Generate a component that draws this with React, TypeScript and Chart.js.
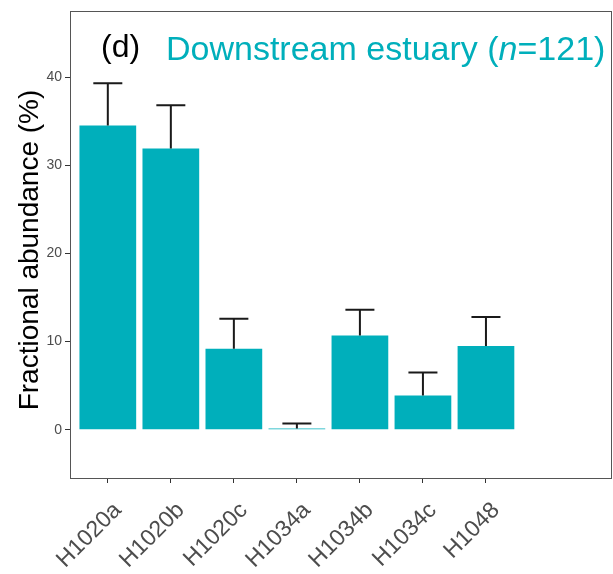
import React, { useEffect, useRef } from "react";
import { Chart, registerables } from "chart.js";

Chart.register(...registerables);

const categories = ["H1020a", "H1020b", "H1020c", "H1034a", "H1034b", "H1034c", "H1048"];
const values = [34.5, 31.9, 9.2, 0.15, 10.7, 3.9, 9.5];
const errors = [4.8, 4.9, 3.4, 0.55, 2.9, 2.6, 3.3];
const yTicks = [0, 10, 20, 30, 40];
const panelLabel = "(d)";
const titleParts = [
  { text: "Downstream estuary (", italic: false },
  { text: "n", italic: true },
  { text: "=121)", italic: false },
];
const yTitle = "Fractional abundance (%)";

const TEAL = "#00AFBB";
const FONT = "'Liberation Sans', Arial, Helvetica, sans-serif";

const decorPlugin = {
  id: "decor",
  afterDatasetsDraw(chart: any) {
    const { ctx, chartArea, scales } = chart;
    const xs = scales.x;
    const ys = scales.y;
    ctx.save();
    // error bars
    ctx.strokeStyle = "#1a1a1a";
    ctx.lineWidth = 2;
    values.forEach((v, i) => {
      const x = xs.getPixelForValue(i + 1);
      const y0 = ys.getPixelForValue(v);
      const y1 = ys.getPixelForValue(v + errors[i]);
      ctx.beginPath();
      ctx.moveTo(x, y0);
      ctx.lineTo(x, y1);
      ctx.moveTo(x - 14.5, y1);
      ctx.lineTo(x + 14.5, y1);
      ctx.stroke();
    });
    // panel border
    ctx.strokeStyle = "#555555";
    ctx.lineWidth = 1;
    ctx.strokeRect(
      Math.round(chartArea.left) + 0.5,
      Math.round(chartArea.top) + 0.5,
      Math.round(chartArea.right - chartArea.left) - 1,
      Math.round(chartArea.bottom - chartArea.top)
    );
    // panel label + title
    ctx.textBaseline = "alphabetic";
    ctx.textAlign = "left";
    ctx.fillStyle = "#000000";
    ctx.font = `32px ${FONT}`;
    ctx.fillText(panelLabel, 101, 57);
    let tx = 166;
    ctx.fillStyle = TEAL;
    titleParts.forEach((p) => {
      ctx.font = `${p.italic ? "italic " : ""}34px ${FONT}`;
      ctx.fillText(p.text, tx, 60);
      tx += ctx.measureText(p.text).width;
    });
    // y axis title
    ctx.save();
    ctx.translate(38, 250);
    ctx.rotate(-Math.PI / 2);
    ctx.textAlign = "center";
    ctx.fillStyle = "#000000";
    ctx.font = `28px ${FONT}`;
    ctx.fillText(yTitle, 0, 0);
    ctx.restore();
    ctx.restore();
  },
};

export default function App() {
  const ref = useRef<HTMLCanvasElement | null>(null);
  useEffect(() => {
    if (!ref.current) return;
    const chart = new Chart(ref.current, {
      type: "bar",
      data: {
        datasets: [
          {
            data: values.map((v, i) => ({ x: i + 1, y: v })),
            backgroundColor: TEAL,
            borderWidth: 0,
            barPercentage: 0.9,
            categoryPercentage: 1,
          },
        ],
      },
      options: {
        responsive: false,
        animation: false,
        layout: { padding: { left: 0, top: 7, right: 1, bottom: 0 } },
        plugins: { legend: { display: false }, tooltip: { enabled: false }, title: { display: false } },
        scales: {
          x: {
            type: "linear",
            offset: false,
            min: 0.4,
            max: 9.0,
            afterBuildTicks: (s: any) => {
              s.ticks = categories.map((_, i) => ({ value: i + 1 }));
            },
            afterFit: (s: any) => {
              s.height = 96;
            },
            grid: { drawOnChartArea: false, drawTicks: true, tickLength: 5, color: "#333333", lineWidth: 1, offset: false },
            border: { display: false },
            ticks: {
              autoSkip: false,
              minRotation: 45,
              maxRotation: 45,
              padding: 14,
              labelOffset: 10,
              color: "#4D4D4D",
              font: { family: FONT, size: 23 },
              callback: (v: any) => categories[Math.round(v) - 1] ?? "",
            },
          },
          y: {
            type: "linear",
            min: -5.47,
            max: 47.45,
            afterBuildTicks: (s: any) => {
              s.ticks = yTicks.map((v) => ({ value: v }));
            },
            afterFit: (s: any) => {
              s.width = 70;
            },
            grid: { drawOnChartArea: false, drawTicks: true, tickLength: 5, color: "#333333", lineWidth: 1 },
            border: { display: false },
            ticks: {
              padding: 3,
              color: "#4D4D4D",
              font: { family: FONT, size: 14 },
              callback: (v: any) => String(v),
            },
          },
        },
      },
      plugins: [decorPlugin],
    });
    return () => chart.destroy();
  }, []);
  return (
    <div style={{ position: "absolute", left: 0, top: 0, width: 613, height: 574, background: "#fff" }}>
      <canvas ref={ref} width={613} height={574} style={{ display: "block" }} />
    </div>
  );
}
